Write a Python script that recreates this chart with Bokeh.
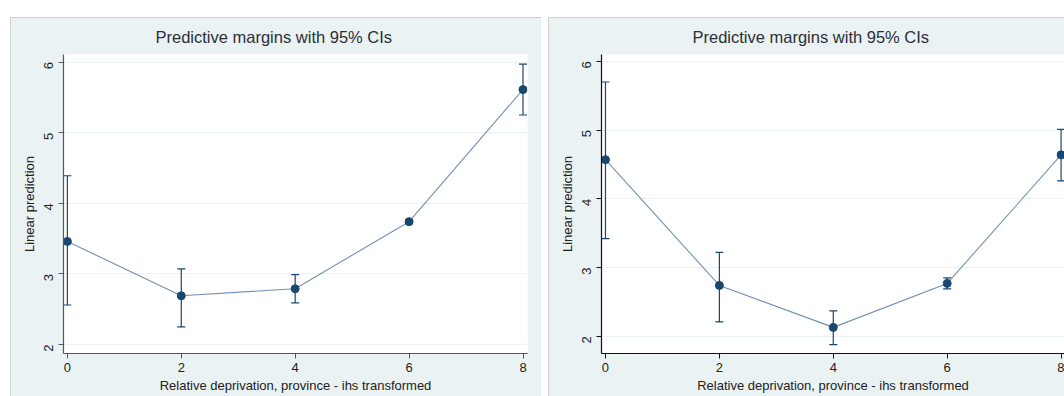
import math
from bokeh.plotting import figure
from bokeh.models import ColumnDataSource, Whisker, TeeHead, FixedTicker, Spacer, Range1d
from bokeh.layouts import row, column
from bokeh.embed import file_html
from bokeh.resources import INLINE

# ---- data ----
x_vals = [0, 2, 4, 6, 8]
left_margin = [3.46, 2.69, 2.79, 3.74, 5.61]
left_lower = [2.56, 2.25, 2.59, 3.71, 5.25]
left_upper = [4.39, 3.07, 2.99, 3.77, 5.97]
right_margin = [4.57, 2.74, 2.13, 2.77, 4.64]
right_lower = [3.42, 2.21, 1.88, 2.69, 4.26]
right_upper = [5.70, 3.22, 2.37, 2.85, 5.01]
x_ticks = [0, 2, 4, 6, 8]
y_ticks = [2, 3, 4, 5, 6]
title_text = "Predictive margins with 95% CIs"
x_label = "Relative deprivation, province - ihs transformed"
y_label = "Linear prediction"

NAVY = "#1a476f"
BG = "#eaf2f3"
FONT = "Liberation Sans"
TXT = "#222222"


def make_panel(margin, lower, upper, width, x_range, y_range, mb_right, axis_col, title_off):
    p = figure(width=width, height=379, output_backend="svg", toolbar_location=None,
               x_range=Range1d(*x_range), y_range=Range1d(*y_range),
               min_border_left=53, min_border_right=mb_right,
               min_border_top=0, min_border_bottom=43)
    p.title.text = title_text
    p.title.align = "left"
    p.title.offset = title_off
    p.title.text_font = FONT
    p.title.text_font_size = "16.5px"
    p.title.text_font_style = "normal"
    p.title.text_color = "#2a2f38"
    p.title.standoff = 17
    p.background_fill_color = "white"
    p.border_fill_color = BG
    p.outline_line_color = None
    p.styles = {"outline": "1px solid #c4c4c4", "outline-offset": "-1px"}

    src = ColumnDataSource(dict(x=x_vals, y=margin, lower=lower, upper=upper))
    p.line("x", "y", source=src, line_color="#4f74a0", line_alpha=0.8, line_width=1.1)
    w = Whisker(base="x", upper="upper", lower="lower", source=src,
                line_color=NAVY, line_width=1.2, level="glyph",
                upper_head=TeeHead(size=8, line_color=NAVY, line_width=1.2),
                lower_head=TeeHead(size=8, line_color=NAVY, line_width=1.2))
    p.add_layout(w)
    p.scatter("x", "y", source=src, marker="circle", size=8, color=NAVY)

    for ax in (p.xaxis[0], p.yaxis[0]):
        ax.axis_line_color = axis_col
        ax.axis_line_width = 1.2
        ax.major_tick_line_color = axis_col
        ax.major_tick_out = 5
        ax.major_tick_in = 0
        ax.minor_tick_line_color = None
        ax.major_label_text_font = FONT
        ax.major_label_text_font_size = "13px"
        ax.major_label_text_color = TXT
        ax.axis_label_text_font = FONT
        ax.axis_label_text_font_size = "13px"
        ax.axis_label_text_font_style = "normal"
        ax.axis_label_text_color = TXT

    p.xaxis.ticker = FixedTicker(ticks=x_ticks)
    p.yaxis.ticker = FixedTicker(ticks=y_ticks)
    p.xaxis.axis_label = x_label
    p.yaxis.axis_label = y_label
    p.xaxis.major_label_standoff = 4
    p.xaxis.axis_label_standoff = 3
    p.yaxis.major_label_standoff = 10
    p.yaxis.axis_label_standoff = 0
    p.yaxis.major_label_orientation = math.pi / 2

    p.xgrid.visible = False
    p.ygrid.grid_line_color = BG
    p.ygrid.grid_line_width = 1.2
    return p


p1 = make_panel(left_margin, left_lower, left_upper, 531,
                (-0.068, 8.079), (1.873, 6.107), 14, "#555555", 92)
p2 = make_panel(right_margin, right_lower, right_upper, 516,
                (-0.07, 8.06), (1.75, 6.10), 0, "#111111", 91)

layout = column(Spacer(height=17),
                row(Spacer(width=10), p1, Spacer(width=7), p2, spacing=0),
                spacing=0)

open("out.html", "w").write(file_html(layout, INLINE))
